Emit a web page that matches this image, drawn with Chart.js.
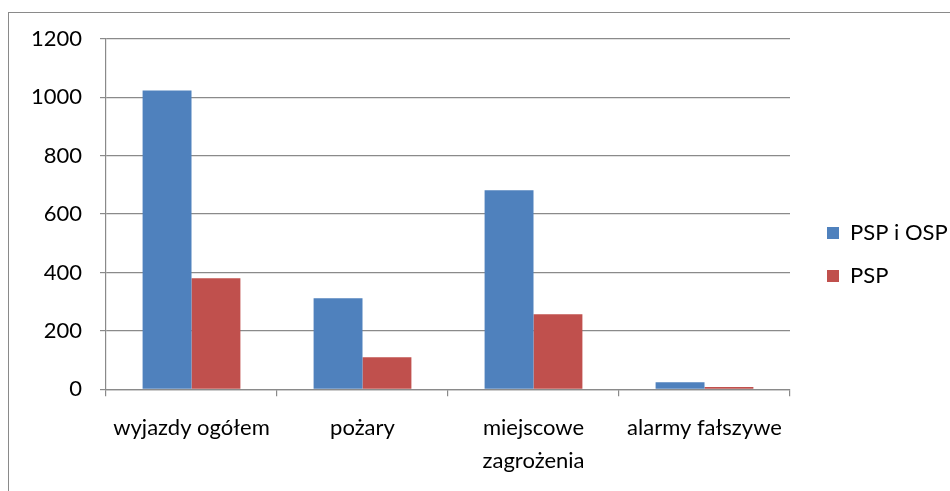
<!DOCTYPE html>
<html>
<head>
<meta charset="utf-8">
<script src="https://cdn.jsdelivr.net/npm/chart.js@4/dist/chart.umd.min.js"></script>
<style>
  html, body { margin: 0; padding: 0; background: #ffffff; }
  #wrap { width: 950px; height: 491px; }
</style>
</head>
<body>
<div id="wrap"><canvas id="c" width="950" height="491"></canvas></div>
<script>
const categories = ["wyjazdy ogółem", "pożary", ["miejscowe", "zagrożenia"], "alarmy fałszywe"];
const seriesNames = ["PSP i OSP", "PSP"];
const pspOsp = [1023, 312, 681, 24];
const psp = [380, 110, 257, 8];
const yTicks = [0, 200, 400, 600, 800, 1000, 1200];

const GRID = '#8a8a8a';
const FONT = { family: 'Lato', size: 22 };

const frame = {
  id: 'frame',
  beforeDraw(chart) {
    const ctx = chart.ctx;
    ctx.save();
    ctx.fillStyle = '#ffffff';
    ctx.fillRect(0, 0, chart.width, chart.height);
    ctx.strokeStyle = '#8a8a8a';
    ctx.lineWidth = 1;
    ctx.strokeRect(8.5, 12.5, 1000, 1000);
    ctx.restore();
  }
};

const legendFix = {
  id: 'legendFix',
  beforeLayout(chart) {
    const lg = chart.legend;
    if (lg && !lg._patched) {
      const orig = lg.fit.bind(lg);
      lg.fit = function () { orig(); this.width = 160; };
      lg._patched = true;
    }
  },
  afterLayout(chart) {
    const lg = chart.legend;
    if (!lg) return;
    lg.left = 806; lg.right = 950;
    lg.top = 201; lg.bottom = 491;
  }
};

new Chart(document.getElementById('c'), {
  type: 'bar',
  data: {
    labels: categories,
    datasets: [
      { label: seriesNames[0], data: pspOsp, backgroundColor: '#4F81BD', borderWidth: 0 },
      { label: seriesNames[1], data: psp, backgroundColor: '#C0504D', borderWidth: 0 }
    ]
  },
  options: {
    responsive: false,
    animation: false,
    devicePixelRatio: 1,
    layout: { padding: { top: 38.7, left: 0, right: 0, bottom: 0 } },
    categoryPercentage: 0.572,
    barPercentage: 1,
    plugins: {
      legend: {
        position: 'right',
        align: 'start',
        labels: {
          boxWidth: 12, boxHeight: 12, padding: 21,
          color: '#000000', font: FONT
        }
      },
      tooltip: { enabled: false },
      title: { display: false }
    },
    scales: {
      x: {
        grid: { display: true, drawOnChartArea: false, drawTicks: true, offset: true, tickLength: 7, color: GRID, lineWidth: 1.2 },
        border: { display: true, color: GRID, width: 1.2 },
        ticks: { color: '#000000', font: { family: 'Lato', size: 22, lineHeight: 1.5 }, padding: 15, maxRotation: 0, autoSkip: false },
        afterFit(scale) { scale.height = 101.7; }
      },
      y: {
        min: 0, max: 1200,
        afterBuildTicks(scale) { scale.ticks = yTicks.map(v => ({ value: v })); },
        grid: { display: true, drawOnChartArea: true, drawTicks: true, tickLength: 6, color: GRID, lineWidth: 1.2 },
        border: { display: true, color: GRID, width: 1.2 },
        ticks: { color: '#000000', font: FONT, padding: 18, callback: (v) => String(v) },
        afterFit(scale) { scale.width = 106; }
      }
    }
  },
  plugins: [frame, legendFix]
});
</script>
</body>
</html>
